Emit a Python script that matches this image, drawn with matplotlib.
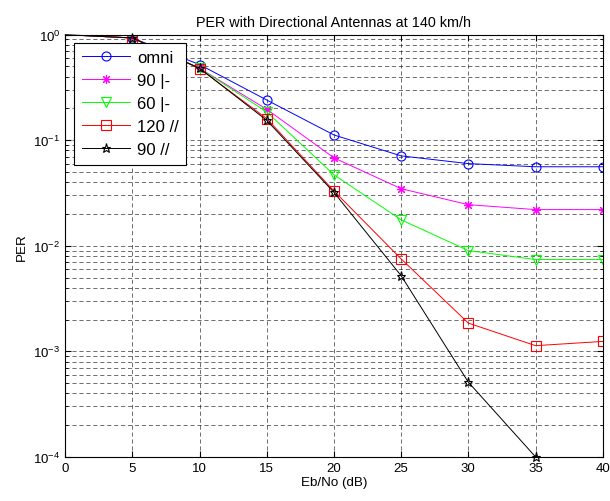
import numpy as np
import matplotlib
matplotlib.use("Agg")
from matplotlib import pyplot as plt
from matplotlib.ticker import LogLocator, NullFormatter

plt.rcParams['font.family'] = ['Liberation Sans', 'DejaVu Sans']

ebno = [0, 5, 10, 15, 20, 25, 30, 35, 40]

per_omni = [1.0, 0.93, 0.52, 0.24, 0.112, 0.071, 0.060, 0.056, 0.056]
per_90_bar = [1.0, 0.93, 0.48, 0.196, 0.068, 0.0347, 0.0245, 0.022, 0.022]
per_60_bar = [1.0, 0.93, 0.48, 0.185, 0.047, 0.0176, 0.0090, 0.0074, 0.0074]
per_120_par = [1.0, 0.93, 0.476, 0.16, 0.033, 0.0075, 0.00185, 0.00113, 0.00124]
per_90_par = [1.0, 0.93, 0.48, 0.154, 0.032, 0.0052, 0.00051, 0.0001]

labels = ["omni", "90 |-", "60 |-", "120 //", "90 //"]

fig = plt.figure(figsize=(6.1, 5.02), dpi=100)
ax = fig.add_axes([0.107, 0.088, 0.881, 0.841])

mk = dict(markersize=6.5, markerfacecolor='none', linewidth=0.7, markeredgewidth=0.8,
          markevery=slice(1, None))
ax.semilogy(ebno, per_omni, color='#0000ff', marker='o', label=labels[0], **mk)
ax.semilogy(ebno, per_90_bar, color='#ff00ff', marker=(8, 2, 0), label=labels[1], **mk)
ax.semilogy(ebno, per_60_bar, color='#00ff00', marker='v', label=labels[2], **mk)
ax.semilogy(ebno, per_120_par, color='#ff0000', marker='s', label=labels[3], **mk)
ax.semilogy(ebno[:len(per_90_par)], per_90_par, color='black', marker='*',
            label=labels[4], clip_on=False, **mk)

ax.set_xlim(0, 40)
ax.set_ylim(1e-4, 1)
ax.set_xticks(np.arange(0, 41, 5))
ax.yaxis.set_major_locator(LogLocator(base=10, numticks=10))
ax.yaxis.set_minor_locator(LogLocator(base=10, subs=np.arange(2, 10), numticks=20))
ax.yaxis.set_minor_formatter(NullFormatter())

grid_style = dict(color='black', linestyle=(0, (6, 4)), linewidth=0.5, alpha=0.8)
ax.grid(True, which='major', axis='both', **grid_style)
ax.grid(True, which='minor', axis='y', **grid_style)

ax.tick_params(which='both', direction='in', top=True, right=True, labelsize=9.5)
ax.tick_params(which='major', length=4)
ax.tick_params(which='minor', length=2)
for s in ax.spines.values():
    s.set_linewidth(0.8)

ax.set_title("PER with Directional Antennas at 140 km/h", fontsize=10.4)
ax.set_xlabel("Eb/No (dB)", fontsize=9.6, labelpad=2)
ax.set_ylabel("PER", fontsize=9.6)

leg = ax.legend(loc='upper left', bbox_to_anchor=(9 / 537, 1 - 8 / 422),
                borderaxespad=0, fontsize=12, fancybox=False, framealpha=1,
                edgecolor='black', handlelength=2.9, handletextpad=0.4,
                borderpad=0.45, labelspacing=0.48)
leg.get_frame().set_linewidth(0.8)

fig.savefig("out.png", dpi=100)
